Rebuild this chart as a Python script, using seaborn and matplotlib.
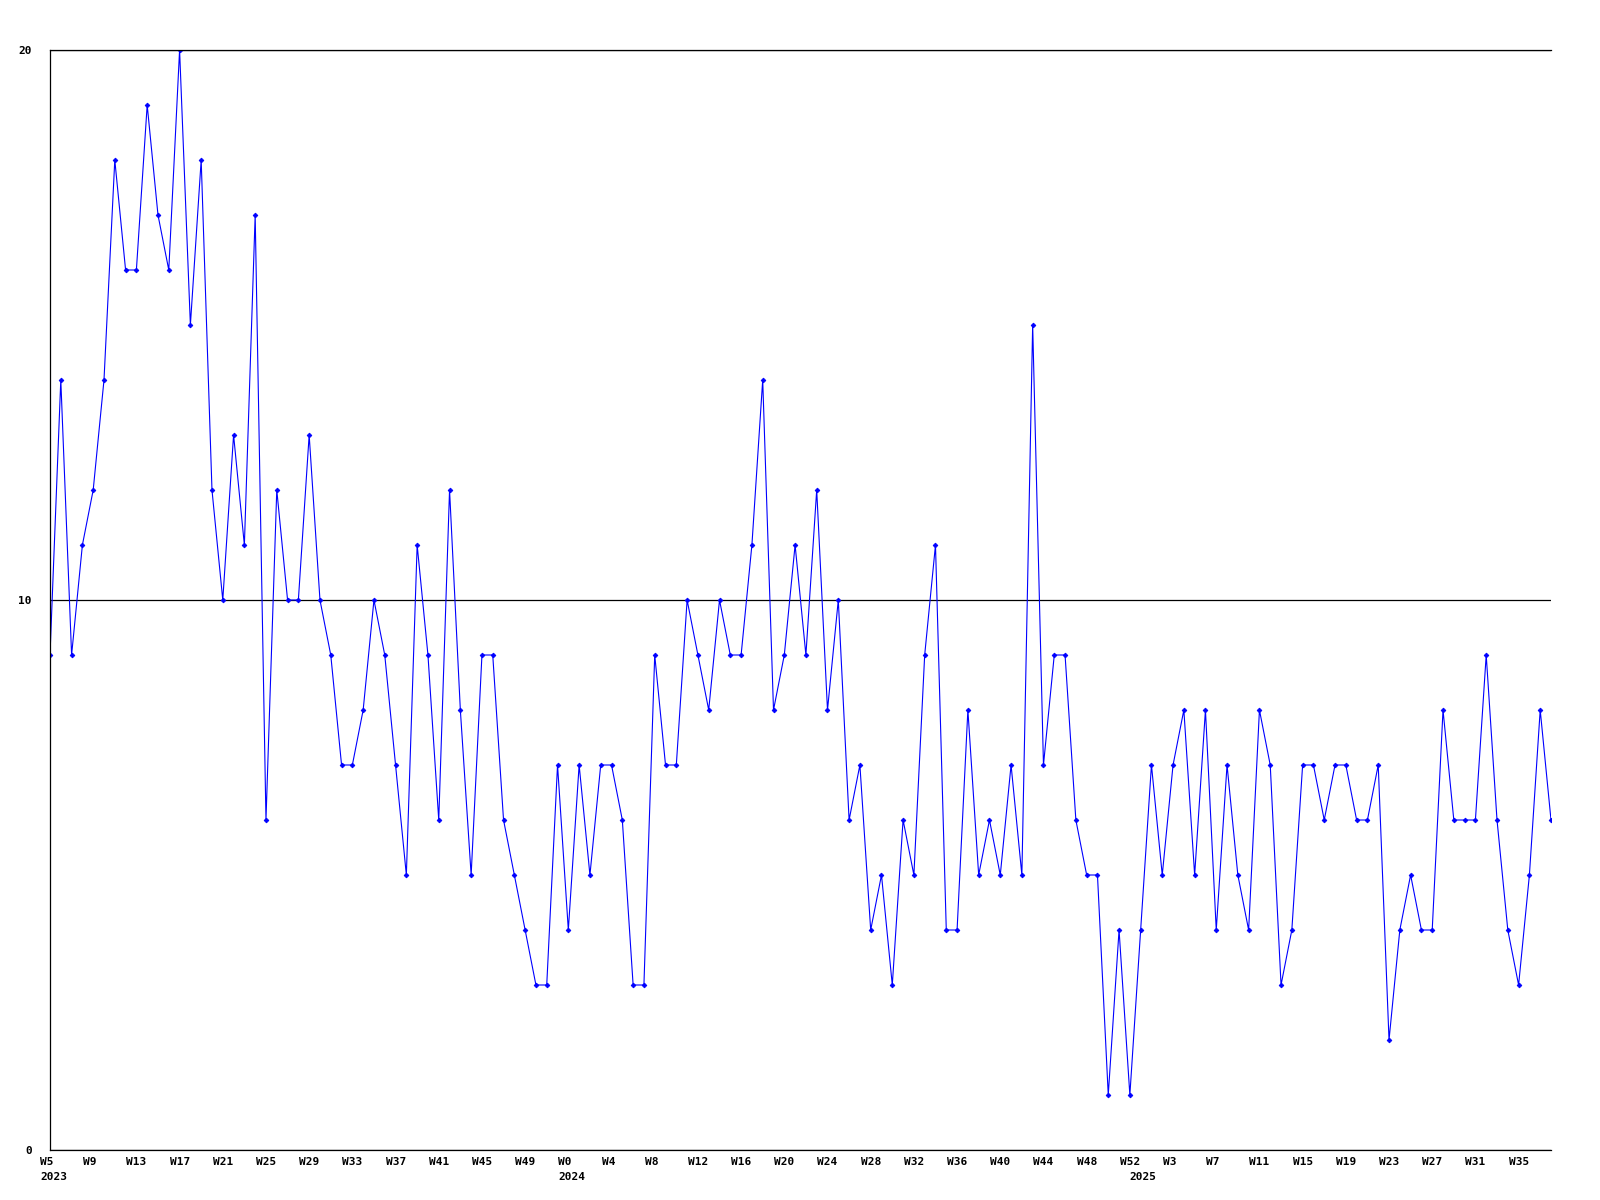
import matplotlib
matplotlib.use("Agg")
import matplotlib.pyplot as plt
import matplotlib.transforms as mtransforms
import pandas as pd
import seaborn as sns

# weekly counts, W5 2023 .. W39 2025
values = [9, 14, 9, 11, 12, 14, 18, 16, 16, 19, 17, 16, 20, 15, 18, 12, 10, 13, 11, 17, 6, 12, 10, 10,
          13, 10, 9, 7, 7, 8, 10, 9, 7, 5, 11, 9, 6, 12, 8, 5, 9, 9, 6, 5, 4, 3, 3,
          7, 4, 7, 5, 7, 7, 6, 3, 3, 9, 7, 7, 10, 9, 8, 10, 9, 9, 11, 14, 8, 9, 11,
          9, 12, 8, 10, 6, 7, 4, 5, 3, 6, 5, 9, 11, 4, 4, 8, 5, 6, 5, 7, 5, 15, 7,
          9, 9, 6, 5, 5, 1, 4, 1, 4, 7, 5, 7, 8, 5, 8, 4, 7, 5, 4, 8, 7, 3, 4,
          7, 7, 6, 7, 7, 6, 6, 7, 2, 4, 5, 4, 4, 8, 6, 6, 6, 9, 6, 4, 3, 5, 8, 6]

tick_labels = ["W5", "W9", "W13", "W17", "W21", "W25", "W29", "W33", "W37", "W41", "W45", "W49",
               "W0", "W4", "W8", "W12", "W16", "W20", "W24", "W28", "W32", "W36", "W40", "W44", "W48", "W52",
               "W3", "W7", "W11", "W15", "W19", "W23", "W27", "W31", "W35"]
years = ["2023", "2024", "2025"]
year_weeks = [0, 48, 100]

sns.set_style("white")
plt.rcParams['font.family'] = ['DejaVu Sans Mono']
plt.rcParams['text.color'] = 'black'

df = pd.DataFrame({"week": range(len(values)), "count": values})

fig = plt.figure(figsize=(16, 12), dpi=100)
ax = fig.add_axes([50 / 1600, 1 - 1150 / 1200, 1501 / 1600, 1100 / 1200])

sns.lineplot(data=df, x="week", y="count", ax=ax, color="#0000ff", linewidth=0.8,
             marker="D", markersize=2.4, markeredgewidth=0.6,
             markeredgecolor="#0000ff", markerfacecolor="#0000ff")

ax.set_xlim(0, len(values) - 1)
ax.set_ylim(0, 20)
ax.set_yticks([0, 10, 20])
ax.set_yticklabels(["0", "10", "20"], fontsize=8, fontweight="bold", color="black")
ax.set_xticks(range(0, len(values), 4))
ax.set_xticklabels(tick_labels, fontsize=8, fontweight="bold", ha="left", va="center", color="black")
ax.tick_params(axis="x", length=0, pad=8.6, labelcolor="black")
ax.tick_params(axis="y", length=0, pad=13, labelcolor="black")
ax.set_xlabel("")
ax.set_ylabel("")

ax.yaxis.grid(True, color="black", linewidth=0.9)
ax.xaxis.grid(False)
ax.spines["right"].set_visible(False)
for s in ["top", "left", "bottom"]:
    ax.spines[s].set_color("black")
    ax.spines[s].set_linewidth(0.9)

shift = mtransforms.ScaledTranslation(-10 / 100, 0, fig.dpi_scale_trans)
for lbl in ax.get_xticklabels():
    lbl.set_transform(lbl.get_transform() + shift)

base = mtransforms.blended_transform_factory(ax.transData, ax.transAxes)
for yr, wk in zip(years, year_weeks):
    dx = 0 if yr == "2025" else -10
    off = mtransforms.ScaledTranslation(dx / 100, -27.5 / 100, fig.dpi_scale_trans)
    ax.text(wk, 0, yr, transform=base + off, ha="left", va="center",
            fontsize=8, fontweight="bold", color="black")

fig.savefig("out.png", dpi=100)
